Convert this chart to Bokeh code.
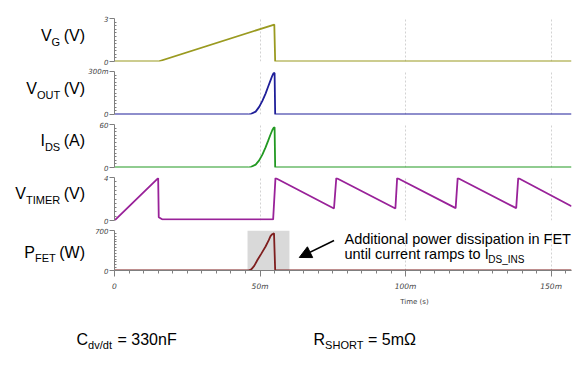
from bokeh.plotting import figure
from bokeh.layouts import column, row
from bokeh.models import Range1d, FixedTicker, Grid, Label, Arrow, NormalHead
from bokeh.embed import file_html
from bokeh.resources import INLINE

# ---------------- data (time in ms) ----------------
t_vg = [0, 15.0, 54.9, 55.2, 157]
v_vg = [0, 0, 2.58, 0, 0]

t_vout = [0, 46.0, 47.0, 48.5, 49.7, 50.8, 51.9, 52.8, 53.6, 54.2, 54.6, 55.0, 55.2, 157]
v_vout = [0, 0, 0.005, 0.02, 0.053, 0.095, 0.146, 0.195, 0.238, 0.27, 0.287, 0.29, 0, 0]

t_ids = [0, 46.0, 47.0, 48.5, 49.7, 50.8, 51.9, 52.8, 53.6, 54.2, 54.6, 55.0, 55.2, 157]
i_ids = [0, 0, 1, 4, 10, 18, 28, 37.5, 46, 52, 55, 56, 0, 0]

t_timer = [0, 15.0, 15.2, 16.5, 54.5, 55.3, 75.4, 76.2, 96.5, 97.1, 117.2, 117.9, 138.0, 138.7, 157]
v_timer = [0, 3.95, 0.3, 0.1, 0.1, 3.95, 1.12, 3.95, 1.12, 3.95, 1.15, 3.95, 1.15, 3.95, 1.33]

t_pfet = [0, 46.0, 47.0, 48.0, 49.1, 50.5, 51.9, 53.0, 53.6, 54.2, 54.8, 55.2, 157]
p_pfet = [0, 0, 20, 80, 183, 300, 420, 530, 600, 635, 650, 0, 0]

shade_t0 = [45.7]
shade_t1 = [60.1]

x_ticks = [0, 50, 100, 150]
x_tick_labels = ["0", "50m", "100m", "150m"]
y_max = [3, 0.3, 60, 4, 700]
y_top_labels = ["3", "300m", "60", "4", "700"]

# ---------------- layout constants (page px) ----------------
X0, X1, TMAX = 111, 571, 157
LW = 85                      # width of the left label strip
TOP_H = 293                  # height of the stacked panels
GEOM = [(18, 61), (71, 114), (124, 167), (177, 220), (230, 273)]
FONT = "Liberation Sans"
TICK_FONT = "DejaVu Sans"
AXC = "#7f7f7f"

AW = {"V": 667, "I": 278, "P": 667, "G": 778, "O": 778, "U": 722, "T": 611, "D": 722,
      "S": 667, "M": 833, "E": 667, "R": 722, "F": 611, "(": 333, ")": 333, "A": 667,
      "W": 944, " ": 278}


def tw(s, size):
    return sum(AW.get(c, 600) for c in s) * size / 1000.0


def dx(px):
    return (px - X0) / (X1 - X0) * TMAX


def dy(py, i):
    top, bot = GEOM[i]
    return (bot - py) / (bot - top) * y_max[i]


def mid(base, size):
    # vertical anchor (middle baseline) for a given text baseline
    return base - 0.52 * size


def lab(p, x, y, text, size, align="left", baseline="middle", font=FONT,
        color="black", style="normal"):
    p.add_layout(Label(x=x, y=y, text=text, text_font=font, text_font_size="%gpx" % size,
                       text_font_style=style, text_color=color,
                       text_align=align, text_baseline=baseline))


xr = Range1d(0, TMAX)


def make_panel(i, height, btop, bbot, minor, xaxis=False):
    p = figure(width=577 - LW, height=height, x_range=xr, y_range=Range1d(0, y_max[i]),
               output_backend="svg", toolbar_location=None, tools="", title=None,
               x_axis_location="below" if xaxis else None,
               min_border_left=X0 - LW, min_border_right=6,
               min_border_top=btop, min_border_bottom=bbot)
    p.outline_line_color = None
    p.background_fill_color = "white"
    p.border_fill_color = "white"
    ax = p.yaxis[0]
    ax.ticker = FixedTicker(ticks=[0, y_max[i]], minor_ticks=minor)
    ax.major_label_overrides = {0: "0", y_max[i]: y_top_labels[i]}
    ax.axis_line_color = AXC
    ax.major_tick_line_color = AXC
    ax.minor_tick_line_color = AXC
    ax.major_tick_out = 5
    ax.major_tick_in = 0
    ax.minor_tick_in = 2
    ax.minor_tick_out = 0
    ax.major_label_standoff = 1
    ax.major_label_text_font = TICK_FONT
    ax.major_label_text_font_style = "italic"
    ax.major_label_text_font_size = "7px"
    ax.major_label_text_color = "#444444"
    p.ygrid.grid_line_color = "#e4e4e4"
    p.ygrid.grid_line_width = 2
    p.xgrid.visible = False
    p.add_layout(Grid(dimension=0, ticker=FixedTicker(ticks=x_ticks[1:]),
                      grid_line_color="#d2d2d2", grid_line_dash="2 2",
                      grid_line_width=1), "center")
    return p


p1 = make_panel(0, 66, 18, 5, [k * 0.25 for k in range(1, 12)])
p1.line(t_vg, v_vg, line_color="#9a9a20", line_width=1.8)

p2 = make_panel(1, 53, 5, 5, [k * 0.025 for k in range(1, 12)])
p2.line(t_vout, v_vout, line_color="#1f1f99", line_width=1.8)

p3 = make_panel(2, 53, 5, 5, [k * 5 for k in range(1, 12)])
p3.line(t_ids, i_ids, line_color="#229922", line_width=1.8)

p4 = make_panel(3, 53, 5, 5, [k * 0.4 for k in range(1, 10)])
p4.line(t_timer, v_timer, line_color="#992299", line_width=1.8)

p5 = make_panel(4, 68, 5, 20, [k * 50 for k in range(1, 14)], xaxis=True)
p5.quad(left=shade_t0, right=shade_t1, bottom=[0], top=[y_max[4]],
        fill_color="#d9d9d9", line_color=None)
p5.line(t_pfet, p_pfet, line_color="#7f1f1f", line_width=1.8)

xa = p5.xaxis[0]
xa.ticker = FixedTicker(ticks=x_ticks, minor_ticks=list(range(5, 157, 5)))
xa.major_label_overrides = dict(zip(x_ticks, x_tick_labels))
xa.axis_line_color = AXC
xa.major_tick_line_color = AXC
xa.minor_tick_line_color = AXC
xa.major_tick_out = 6
xa.major_tick_in = 0
xa.minor_tick_out = 3
xa.minor_tick_in = 0
xa.major_label_standoff = 5
xa.major_label_text_font = TICK_FONT
xa.major_label_text_font_style = "italic"
xa.major_label_text_font_size = "7.5px"
xa.major_label_text_color = "#444444"

# annotation inside the power panel
p5.add_layout(Arrow(end=NormalHead(size=12, fill_color="black", line_color="black"),
                    x_start=dx(332), y_start=dy(240.7, 4), x_end=dx(297), y_end=dy(259, 4),
                    line_color="black", line_width=1.5))
lab(p5, dx(342.5), dy(mid(246.7, 14.5), 4), "Additional power dissipation in FET", 14.5)
lab(p5, dx(342.5), dy(mid(263.3, 14.5), 4), "until current ramps to I", 14.5)
l2w = 9.948 * 14.5
lab(p5, dx(342.5 + l2w + 0.5), dy(mid(266.5, 10), 4), "DS_INS", 10)

# ---------------- left label strip (page coordinates) ----------------
pl = figure(width=LW, height=TOP_H, x_range=Range1d(0, LW), y_range=Range1d(TOP_H, 0),
            output_backend="svg", toolbar_location=None, tools="", title=None,
            x_axis_location=None, y_axis_location=None,
            min_border_left=0, min_border_right=0, min_border_top=0, min_border_bottom=0)
pl.outline_line_color = None
pl.xgrid.visible = False
pl.ygrid.visible = False

panel_names = [("V", "G", "(V)"), ("V", "OUT", "(V)"), ("I", "DS", "(A)"),
               ("V", "TIMER", "(V)"), ("P", "FET", "(W)")]
label_base = [43.3, 96.7, 148.3, 201.7, 260]
for (main, sub, unit), base in zip(panel_names, label_base):
    right = LW - 0.5
    unit_left = right - tw(unit, 16)
    sub_right = unit_left - 3.5
    sub_left = sub_right - tw(sub, 11)
    lab(pl, right, mid(base, 16), unit, 16, align="right")
    lab(pl, sub_left, mid(base + 3.5, 11), sub, 11)
    lab(pl, sub_left, mid(base, 16), main, 16, align="right")

# ---------------- bottom notes strip (page coordinates) ----------------
BOT_H = 358 - TOP_H
pn = figure(width=577, height=BOT_H, x_range=Range1d(0, 577), y_range=Range1d(358, TOP_H),
            output_backend="svg", toolbar_location=None, tools="", title=None,
            x_axis_location=None, y_axis_location=None,
            min_border_left=0, min_border_right=0, min_border_top=0, min_border_bottom=0)
pn.outline_line_color = None
pn.xgrid.visible = False
pn.ygrid.visible = False

lab(pn, 414, 301, "Time (s)", 7, align="center", font=TICK_FONT, color="#444444")
bx = 76
lab(pn, bx, mid(347, 16), "C", 16)
lab(pn, bx + 11.6, mid(350.5, 11), "dv/dt", 11)
lab(pn, 117, mid(347, 16), "= 330nF", 16)
rx = 313
lab(pn, rx, mid(347, 16), "R", 16)
lab(pn, rx + 11.6, mid(350.5, 11), "SHORT", 11)
lab(pn, 367.5, mid(347, 16), "= 5m\u03a9", 16)

layout = column(row(pl, column(p1, p2, p3, p4, p5, spacing=0), spacing=0), pn, spacing=0)
open("out.html", "w").write(file_html(layout, INLINE))
